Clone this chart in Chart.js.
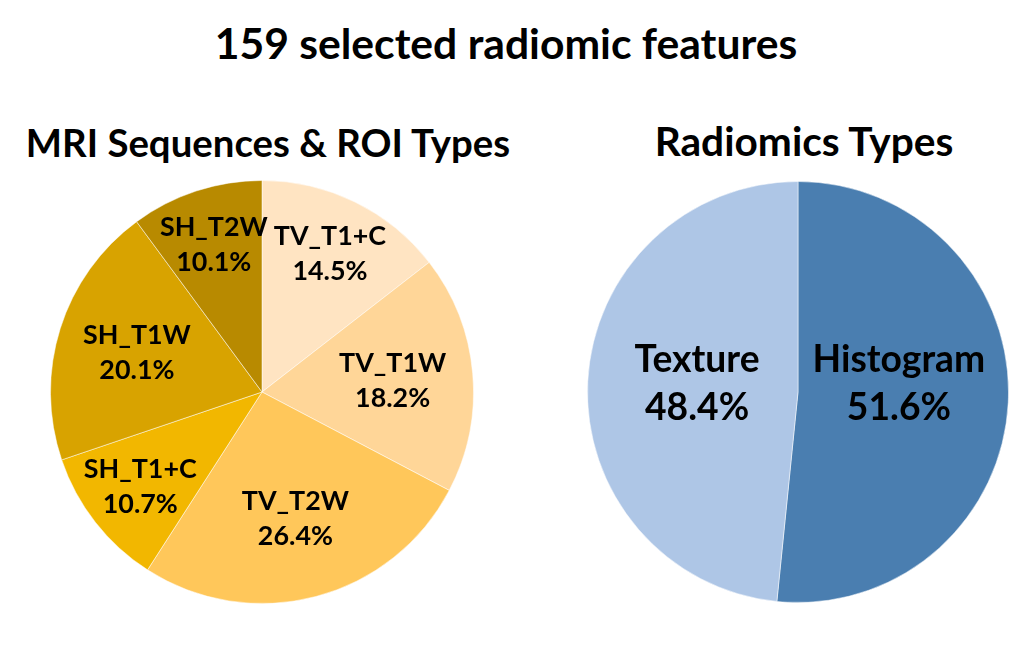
<!DOCTYPE html>
<html>
<head>
<meta charset="utf-8">
<script src="https://cdn.jsdelivr.net/npm/chart.js@4.4.0/dist/chart.umd.min.js"></script>
<style>
  body { margin: 0; background: #fff; width: 1032px; height: 666px; position: relative; overflow: hidden;
         font-family: Lato, sans-serif; font-weight: 700; color: #000; }
  .t { position: absolute; white-space: nowrap; line-height: 1; transform: translateX(-50%); }
  #leftWrap { position: absolute; left: 50px; top: 180px; width: 424px; height: 424px; }
  #rightWrap { position: absolute; left: 587px; top: 181px; width: 422px; height: 422px; }
</style>
</head>
<body>
<div class="t" id="title" style="left:506px">159 selected radiomic features</div>
<div class="t" id="subL" style="left:268px">MRI Sequences &amp; ROI Types</div>
<div class="t" id="subR" style="left:804px">Radiomics Types</div>
<div id="leftWrap"><canvas id="seqPie"></canvas></div>
<div id="rightWrap"><canvas id="typePie"></canvas></div>
<script>
// MRI sequences & ROI types (percent of 159 features)
const seqLabels = ['TV_T1+C', 'TV_T1W', 'TV_T2W', 'SH_T1+C', 'SH_T1W', 'SH_T2W'];
const seqValues = [14.5, 18.2, 26.4, 10.7, 20.1, 10.1];
const seqColors = ['#FFE4C2', '#FFD698', '#FFC75A', '#F2B700', '#D8A300', '#B88A00'];

// Radiomics types
const typeLabels = ['Histogram', 'Texture'];
const typeValues = [51.6, 48.4];
const typeColors = ['#4A7EB0', '#AEC6E6'];

// pick a font size so a string gets (about) the width it has in the original
const measureCtx = document.createElement('canvas').getContext('2d');
function fitSize(text, width, scale) {
    measureCtx.font = '700 100px Lato';
    return (scale || 1) * 100 * width / measureCtx.measureText(text).width;
}

// place a title so its baseline sits at y
function placeTitle(id, width, baseline) {
    const el = document.getElementById(id);
    const size = fitSize(el.textContent, width, 1.01);
    el.style.fontSize = size + 'px';
    el.style.top = (baseline - 0.887 * size) + 'px';
}
placeTitle('title', 577, 60);
placeTitle('subL', 481, 157);
placeTitle('subR', 297, 157);

// two-line labels inside each slice
const sliceLabels = {
    id: 'sliceLabels',
    afterDatasetsDraw(chart, args, opts) {
        const ctx = chart.ctx;
        const values = chart.data.datasets[0].data;
        ctx.save();
        ctx.font = '700 ' + opts.size + 'px Lato';
        ctx.fillStyle = '#000';
        ctx.textAlign = 'center';
        ctx.textBaseline = 'middle';
        chart.getDatasetMeta(0).data.forEach((arc, i) => {
            const p = arc.getProps(['x', 'y', 'startAngle', 'endAngle', 'outerRadius'], true);
            const mid = (p.startAngle + p.endAngle) / 2;
            const r = p.outerRadius * (values[i] < 16 ? opts.smallFrac : opts.frac);
            const cx = p.x + Math.cos(mid) * r;
            // level: keep all labels on one row (used for the two-slice pie)
            const cy = opts.level ? p.y + opts.dy : p.y + Math.sin(mid) * r;
            ctx.fillText(chart.data.labels[i], cx, cy - opts.gap / 2);
            ctx.fillText(values[i].toFixed(1) + '%', cx, cy + opts.gap / 2);
        });
        ctx.restore();
    }
};

function makePie(canvasId, labels, values, colors, labelOpts) {
    return new Chart(document.getElementById(canvasId), {
        type: 'pie',
        data: {
            labels: labels,
            datasets: [{
                data: values,
                backgroundColor: colors,
                borderColor: 'rgba(255,255,255,0.5)',
                borderWidth: 1
            }]
        },
        options: {
            responsive: true,
            maintainAspectRatio: false,
            animation: false,
            layout: { padding: 0 },
            plugins: {
                legend: { display: false },
                tooltip: { enabled: false },
                sliceLabels: labelOpts
            }
        },
        plugins: [sliceLabels]
    });
}

makePie('seqPie', seqLabels, seqValues, seqColors,
    { size: fitSize('TV_T1+C', 108, 1.04), gap: 35, frac: 0.62, smallFrac: 0.73 });
makePie('typePie', typeLabels, typeValues, typeColors,
    { size: fitSize('Histogram', 166, 1.04), gap: 48, frac: 0.48, smallFrac: 0.48, level: true, dy: -8 });
</script>
</body>
</html>
